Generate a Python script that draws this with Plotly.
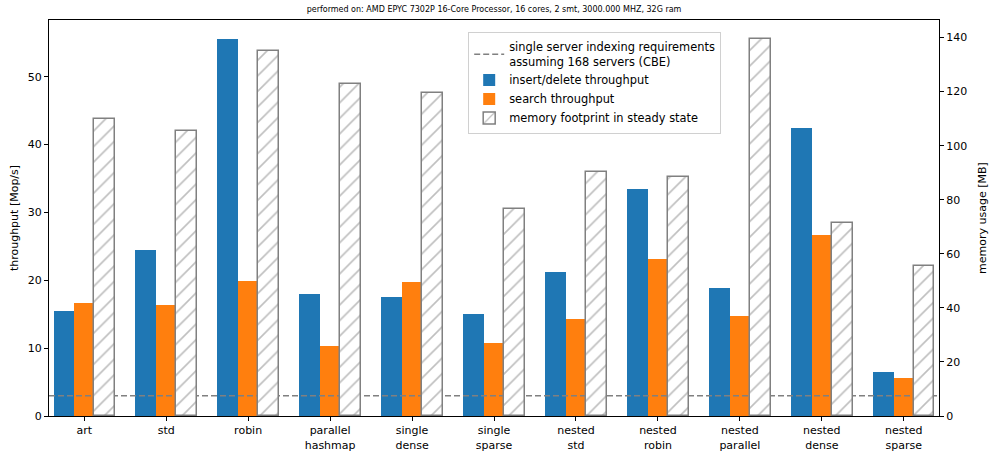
import numpy as np
import plotly.graph_objects as go

# Hash-map / index variants benchmarked
categories = ["art", "std", "robin", "parallel<br>hashmap", "single<br>dense", "single<br>sparse",
              "nested<br>std", "nested<br>robin", "nested<br>parallel", "nested<br>dense", "nested<br>sparse"]

# Throughput in Mop/s
insert_delete = [15.5, 24.5, 55.6, 18.0, 17.6, 15.1, 21.2, 33.5, 18.9, 42.5, 6.5]
search = [16.7, 16.3, 19.9, 10.3, 19.8, 10.7, 14.3, 23.2, 14.7, 26.7, 5.6]

# Memory footprint in steady state, MB
memory = [109.9, 105.6, 135.0, 122.9, 119.4, 76.6, 90.4, 88.4, 139.5, 71.3, 55.5]

# Per-server throughput requirement (Mop/s) for 168 servers
requirement = 2.98

title = "performed on: AMD EPYC 7302P 16-Core Processor, 16 cores, 2 smt, 3000.000 MHZ, 32G ram"

idx = np.arange(len(categories))
bar_w = 0.25
x_range = [-0.43, len(categories) - 1 + 0.43]

FONT = "DejaVu Sans"
BLUE = "#1f77b4"
ORANGE = "#ff7f0e"
GREY = "#808080"

fig = go.Figure()

fig.add_trace(go.Bar(
    x=idx - bar_w, y=insert_delete, width=bar_w, name="insert/delete throughput",
    marker=dict(color=BLUE, line=dict(width=0)), legendrank=2, yaxis="y",
))
fig.add_trace(go.Bar(
    x=idx, y=search, width=bar_w, name="search throughput",
    marker=dict(color=ORANGE, line=dict(width=0)), legendrank=3, yaxis="y",
))
fig.add_trace(go.Scatter(
    x=x_range, y=[requirement, requirement], mode="lines",
    name="single server indexing requirements<br>assuming 168 servers (CBE)",
    line=dict(color="#808080", width=1.5, dash="6px,3px"), legendrank=1, yaxis="y",
))
fig.add_trace(go.Bar(
    x=idx + bar_w, y=memory, width=bar_w, name="memory footprint in steady state",
    marker=dict(color="white", line=dict(color=GREY, width=1.5),
                pattern=dict(shape="/", fgcolor=GREY, bgcolor="white", size=11, solidity=0.15)),
    legendrank=4, yaxis="y2",
))

axis_common = dict(
    showline=True, linecolor="black", linewidth=1, ticks="outside", ticklen=4,
    tickcolor="black", showgrid=False, zeroline=False, automargin=False,
    tickfont=dict(family=FONT, size=11, color="black"),
)

fig.update_layout(
    width=991, height=451,
    margin=dict(l=49, r=52, t=20, b=35),
    paper_bgcolor="white", plot_bgcolor="white",
    barmode="overlay", bargap=0,
    font=dict(family=FONT, size=11, color="black"),
    title=dict(text=title, x=0.4985, xanchor="center", y=1 - 9 / 451, yanchor="middle",
               yref="container", font=dict(family=FONT, size=8, color="black")),
    xaxis=dict(axis_common, range=x_range, tickvals=idx, ticktext=categories, mirror=True),
    yaxis=dict(axis_common, range=[0, 58.35], dtick=10,
               title=dict(text="throughput [Mop/s]", standoff=6, font=dict(family=FONT, size=11))),
    yaxis2=dict(axis_common, range=[0, 146.5], dtick=20, overlaying="y", side="right",
                title=dict(text="memory usage [MB]", standoff=12, font=dict(family=FONT, size=11))),
    legend=dict(x=0.471, y=0.97, xanchor="left", yanchor="top",
                bgcolor="rgba(255,255,255,0.8)", bordercolor="#d0d0d0", borderwidth=1,
                font=dict(family=FONT, size=11.4), tracegroupgap=0, itemwidth=30),
    showlegend=True,
)

fig.write_html("out.html")
